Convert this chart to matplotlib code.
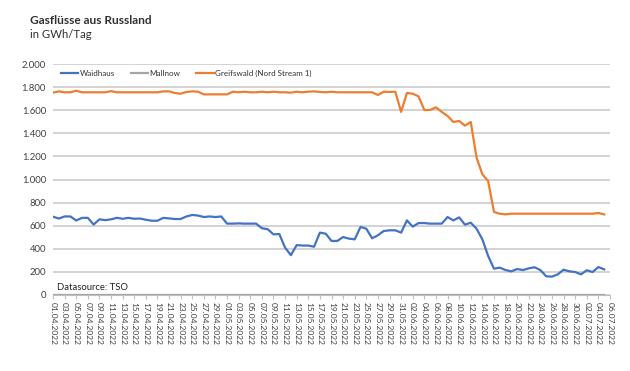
import matplotlib
matplotlib.use("Agg")
import matplotlib.pyplot as plt
import numpy as np
import datetime as dt
from matplotlib.ticker import FuncFormatter

plt.rcParams['font.family'] = ['Lato', 'DejaVu Sans']

# Dates: 01.04.2022 .. 05.07.2022 (data), axis to 06.07.2022
start = dt.date(2022, 4, 1)
n_days_axis = 97
tick_labels = [(start + dt.timedelta(days=i)).strftime("%d.%m.%Y") for i in range(0, n_days_axis, 2)]

waidhaus = [678, 662, 680, 680, 645, 668, 668, 610, 655, 648,
            655, 668, 660, 668, 660, 662, 652, 643, 643, 668,
            663, 658, 658, 680, 693, 688, 675, 680, 675, 680,
            618, 618, 620, 618, 618, 618, 578, 570, 525, 528,
            410, 345, 432, 428, 428, 418, 540, 531, 468, 468,
            502, 488, 482, 589, 574, 491, 517, 554, 560, 560,
            540, 646, 592, 623, 623, 618, 618, 618, 675, 646,
            672, 609, 626, 574, 482, 338, 228, 237, 216, 205,
            225, 216, 231, 240, 216, 162, 159, 179, 219, 205,
            199, 179, 214, 199, 242, 222]

greifswald = [1752, 1763, 1755, 1755, 1769, 1755, 1755, 1755, 1755, 1755,
              1765, 1755, 1755, 1755, 1755, 1755, 1755, 1755, 1755, 1763,
              1763, 1749, 1743, 1758, 1763, 1760, 1737, 1737, 1737, 1737,
              1737, 1760, 1755, 1760, 1755, 1755, 1760, 1755, 1760, 1755,
              1755, 1752, 1760, 1755, 1760, 1763, 1758, 1755, 1760, 1755,
              1755, 1755, 1755, 1755, 1755, 1755, 1732, 1760, 1758, 1760,
              1585, 1749, 1743, 1720, 1602, 1602, 1625, 1585, 1550, 1498,
              1507, 1466, 1498, 1189, 1045, 987, 719, 704, 698, 704,
              704, 704, 704, 704, 704, 704, 704, 704, 704, 704,
              704, 704, 704, 704, 710, 698]

mallnow = [0] * len(waidhaus)

days = np.arange(len(waidhaus))

fig = plt.figure(figsize=(6.3, 3.71), dpi=100)
ax = fig.add_axes([53/630, 1-295/371, 557/630, 231/371])

ax.plot(days, waidhaus, color='#4472C4', lw=1.6, label='Waidhaus', zorder=3)
ax.plot(days, mallnow, color='#A5A5A5', lw=1.6, label='Mallnow', zorder=3)
ax.plot(days, greifswald, color='#ED7D31', lw=1.6, label='Greifswald (Nord Stream 1)', zorder=3)

ax.set_xlim(0, n_days_axis - 1)
ax.set_ylim(0, 2000)
ax.set_yticks(np.arange(0, 2001, 200))
ax.yaxis.set_major_formatter(FuncFormatter(lambda v, p: f"{int(v):,}".replace(",", ".")))
ax.set_xticks(np.arange(0, n_days_axis, 2))
ax.set_xticklabels(tick_labels, rotation=-90, fontsize=6, color='#404040')
ax.tick_params(axis='y', length=0, labelsize=6.8, labelcolor='#404040', pad=5)
ax.tick_params(axis='x', length=3, color='#BFBFBF', pad=2)

ax.grid(axis='y', color='#C8C8C8', lw=1.1)
ax.set_axisbelow(True)
for s in ['top', 'right', 'left']:
    ax.spines[s].set_visible(False)
ax.spines['bottom'].set_color('#BFBFBF')

leg = ax.legend(loc='upper left', bbox_to_anchor=(0.004, 1.0), ncol=3, frameon=False,
                fontsize=5.8, handlelength=2.15, handletextpad=0.15, columnspacing=2.0,
                borderaxespad=0.3)
for t in leg.get_texts():
    t.set_color('#303030')

ax.text(0.008, 0.015, 'Datasource: TSO', transform=ax.transAxes, fontsize=6.8,
        color='#202020', va='bottom', ha='left')

fig.text(30/630, 1-20/371, 'Gasflüsse aus Russland', fontsize=8.6, fontweight='bold',
         color='#303030', va='center', ha='left')
fig.text(30/630, 1-34/371, 'in GWh/Tag', fontsize=8.2, color='#303030', va='center', ha='left')

fig.savefig('out.png', dpi=100)
